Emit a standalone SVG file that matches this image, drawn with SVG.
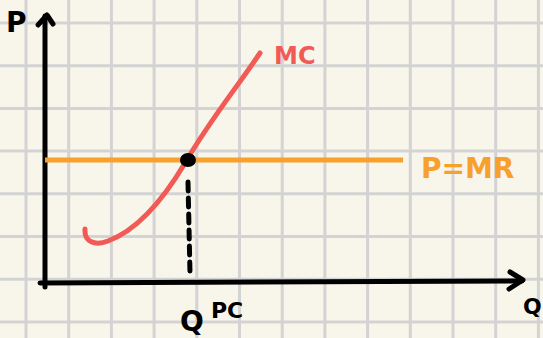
<svg xmlns="http://www.w3.org/2000/svg" width="543" height="338" viewBox="0 0 543 338">
<defs>
<style>
.grid line{stroke:#d3d3d3;stroke-width:3}
.ink{fill:none;stroke:#000;stroke-width:5;stroke-linecap:round;stroke-linejoin:round}
.lbl{font-family:"DejaVu Sans",sans-serif;font-weight:bold}
</style>
</defs>
<rect width="543" height="338" fill="#f8f6ea"/>
<g class="grid">
<line x1="26" y1="0" x2="26" y2="338"/><line x1="68.7" y1="0" x2="68.7" y2="338"/><line x1="111.4" y1="0" x2="111.4" y2="338"/><line x1="154.1" y1="0" x2="154.1" y2="338"/><line x1="196.8" y1="0" x2="196.8" y2="338"/><line x1="239.5" y1="0" x2="239.5" y2="338"/><line x1="282.2" y1="0" x2="282.2" y2="338"/><line x1="324.9" y1="0" x2="324.9" y2="338"/><line x1="367.6" y1="0" x2="367.6" y2="338"/><line x1="410.3" y1="0" x2="410.3" y2="338"/><line x1="453" y1="0" x2="453" y2="338"/><line x1="495.7" y1="0" x2="495.7" y2="338"/><line x1="538.4" y1="0" x2="538.4" y2="338"/>
<line x1="0" y1="23" x2="543" y2="23"/><line x1="0" y1="65.7" x2="543" y2="65.7"/><line x1="0" y1="108.4" x2="543" y2="108.4"/><line x1="0" y1="151.1" x2="543" y2="151.1"/><line x1="0" y1="193.8" x2="543" y2="193.8"/><line x1="0" y1="236.5" x2="543" y2="236.5"/><line x1="0" y1="279.2" x2="543" y2="279.2"/><line x1="0" y1="321.9" x2="543" y2="321.9"/>
</g>
<g id="axes">
<path class="ink" d="M45,287 L45,16"/>
<path class="ink" d="M38,25 L47,15 L53,24"/>
<path class="ink" d="M40,283 L522,281"/>
<path class="ink" d="M510,272 L523,280 L509,289"/>
</g>
<g id="mr-line">
<path d="M45,160 L403,160" fill="none" stroke="#f7a02b" stroke-width="5"/>
</g>
<g id="mc-curve">
<path d="M85,229 C 84,242 95,246 108,241 C 135,231 160,205 185,163 C 210,120 235,90 260,53" fill="none" stroke="#f25a55" stroke-width="5" stroke-linecap="round"/>
</g>
<g id="connectors">
<path d="M188,182 L190,273" fill="none" stroke="#000" stroke-width="5" stroke-dasharray="9,7" stroke-linecap="round"/>
</g>
<g id="eq-point">
<ellipse cx="188" cy="160" rx="8" ry="7" fill="#000"/>
</g>
<g id="labels">
<text class="lbl" x="6" y="32" font-size="28" fill="#000">P</text>
<text class="lbl" x="274" y="64" font-size="24" fill="#f25a55">MC</text>
<text class="lbl" x="421" y="178" font-size="28" fill="#f7a02b">P=MR</text>
<text class="lbl" x="180" y="331" font-size="28" fill="#000">Q</text>
<text class="lbl" x="211" y="318" font-size="22" fill="#000">PC</text>
<text class="lbl" x="523" y="314" font-size="22" fill="#000">Q</text>
</g>
</svg>
